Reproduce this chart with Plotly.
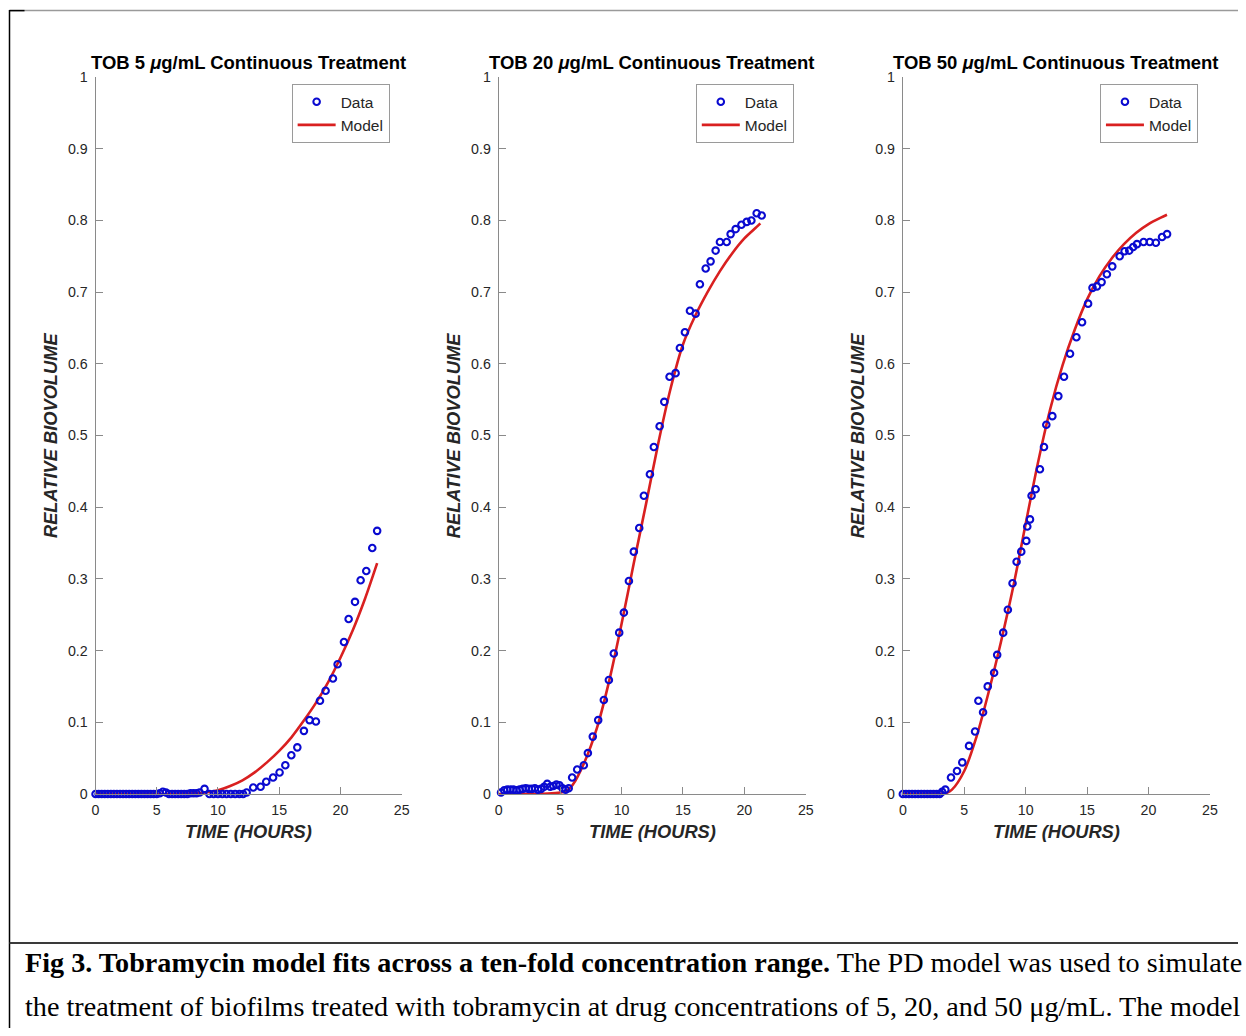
import plotly.graph_objects as go

# ---------------- data ----------------
# Panel 1: TOB 5 ug/mL
t5_data = [0.00, 0.25, 0.50, 0.75, 1.00, 1.25, 1.50, 1.75, 2.00, 2.25, 2.50, 2.75, 3.00,
           3.25, 3.50, 3.75, 4.00, 4.25, 4.50, 4.75, 5.00, 5.25, 5.50, 5.75, 6.00, 6.25,
           6.50, 6.75, 7.00, 7.25, 7.50, 7.75, 8.00, 8.25, 8.50, 8.90, 9.30, 9.65, 10.00,
           10.35, 10.70, 11.05, 11.40, 11.75, 12.05, 12.34, 12.88, 13.48, 13.94, 14.50,
           15.03, 15.50, 15.99, 16.48, 17.02, 17.48, 18.00, 18.33, 18.79, 19.39, 19.77,
           20.29, 20.67, 21.19, 21.65, 22.11, 22.60, 23.00]
y5_data = [0.000, 0.000, 0.000, 0.000, 0.000, 0.000, 0.000, 0.000, 0.000, 0.000, 0.000, 0.000, 0.000,
           0.000, 0.000, 0.000, 0.000, 0.000, 0.000, 0.000, 0.000, 0.001, 0.003, 0.002, 0.000, 0.000,
           0.000, 0.000, 0.000, 0.000, 0.000, 0.001, 0.001, 0.001, 0.002, 0.007, 0.000, 0.000, 0.000,
           0.000, 0.000, 0.000, 0.000, 0.000, 0.000, 0.002, 0.009, 0.010, 0.017, 0.023,
           0.030, 0.040, 0.054, 0.065, 0.088, 0.103, 0.101, 0.130, 0.144, 0.161, 0.181,
           0.212, 0.244, 0.268, 0.298, 0.311, 0.343, 0.367]
t5_model = [0, 1, 2, 3, 4, 5, 6, 7, 8, 9, 10, 11, 12, 13, 14, 15, 16, 17, 18, 19, 20, 21, 22, 23]
y5_model = [0.000, 0.000, 0.000, 0.000, 0.000, 0.000, 0.000, 0.0003, 0.001, 0.002, 0.005, 0.011,
            0.019, 0.030, 0.044, 0.060, 0.079, 0.102, 0.127, 0.156, 0.190, 0.228, 0.272, 0.322]

# Panel 2: TOB 20 ug/mL
t20_data = [0.19, 0.45, 0.70, 0.95, 1.20, 1.45, 1.70, 1.95, 2.20, 2.45, 2.70, 2.95, 3.20, 3.45,
            3.70, 3.95, 4.20, 4.45, 4.70, 4.95, 5.20, 5.45, 5.70, 5.98, 6.39, 6.93, 7.26, 7.66,
            8.10, 8.56, 8.97, 9.37, 9.81, 10.19, 10.60, 11.00, 11.44, 11.82, 12.31, 12.63,
            13.10, 13.48, 13.91, 14.40, 14.75, 15.16, 15.57, 16.03, 16.38, 16.85, 17.25,
            17.66, 18.01, 18.56, 18.88, 19.29, 19.76, 20.19, 20.57, 21.00, 21.41]
y20_data = [0.002, 0.005, 0.006, 0.006, 0.006, 0.005, 0.006, 0.007, 0.008, 0.007, 0.007, 0.008,
            0.006, 0.007, 0.010, 0.014, 0.010, 0.011, 0.013, 0.012, 0.008, 0.006, 0.008, 0.023,
            0.034, 0.040, 0.057, 0.080, 0.103, 0.131, 0.159, 0.196, 0.225, 0.253, 0.297, 0.338,
            0.371, 0.416, 0.446, 0.484, 0.513, 0.547, 0.582, 0.587, 0.622, 0.644, 0.674, 0.670,
            0.711, 0.733, 0.743, 0.758, 0.770, 0.770, 0.781, 0.788, 0.794, 0.798, 0.800, 0.810,
            0.807]
t20_model = [0, 1, 2, 3, 4, 5, 5.5, 6, 7, 8, 9, 10, 11, 12, 13, 14, 15, 16, 17, 18, 19, 20, 21, 21.3]
y20_model = [0.000, 0.000, 0.000, 0.000, 0.0005, 0.002, 0.004, 0.012, 0.045, 0.092, 0.158, 0.237,
             0.322, 0.405, 0.490, 0.566, 0.627, 0.667, 0.700, 0.729, 0.754, 0.775, 0.791, 0.796]

# Panel 3: TOB 50 ug/mL
t50_data = [0.00, 0.25, 0.50, 0.75, 1.00, 1.25, 1.50, 1.75, 2.00, 2.25, 2.50, 2.75, 3.00, 3.20,
            3.46, 3.92, 4.41, 4.84, 5.39, 5.88, 6.15, 6.53, 6.91, 7.43, 7.68, 8.17, 8.55, 8.93,
            9.26, 9.64, 10.05, 10.13, 10.35, 10.48, 10.81, 11.16, 11.49, 11.68, 12.17, 12.66,
            13.12, 13.61, 14.13, 14.59, 15.08, 15.44, 15.80, 16.18, 16.61, 17.05, 17.65, 18.05,
            18.43, 18.75, 19.06, 19.60, 20.10, 20.60, 21.10, 21.51]
y50_data = [0.000, 0.000, 0.000, 0.000, 0.000, 0.000, 0.000, 0.000, 0.000, 0.000, 0.000, 0.000,
            0.000, 0.003, 0.006, 0.023, 0.032, 0.044, 0.067, 0.087, 0.130, 0.114, 0.150, 0.169,
            0.194, 0.225, 0.257, 0.294, 0.324, 0.338, 0.353, 0.373, 0.383, 0.416, 0.425, 0.453,
            0.484, 0.515, 0.527, 0.555, 0.582, 0.614, 0.637, 0.658, 0.684, 0.706, 0.708, 0.714,
            0.725, 0.736, 0.750, 0.757, 0.758, 0.763, 0.767, 0.770, 0.770, 0.769, 0.777, 0.781]
t50_model = [0, 1, 2, 3, 3.5, 4, 5, 6, 7, 8, 9, 10, 11, 12, 13, 14, 15, 16, 17, 18, 19, 20, 21, 21.5]
y50_model = [0.000, 0.000, 0.000, 0.000, 0.001, 0.006, 0.032, 0.080, 0.143, 0.213, 0.290, 0.377,
             0.462, 0.537, 0.598, 0.648, 0.690, 0.722, 0.747, 0.767, 0.783, 0.795, 0.804, 0.808]

titles = ["TOB 5 <i>μ</i>g/mL Continuous Treatment",
          "TOB 20 <i>μ</i>g/mL Continuous Treatment",
          "TOB 50 <i>μ</i>g/mL Continuous Treatment"]
x_ticks = [0, 5, 10, 15, 20, 25]
y_ticks = [0, 0.1, 0.2, 0.3, 0.4, 0.5, 0.6, 0.7, 0.8, 0.9, 1]
y_ticktext = ["0", "0.1", "0.2", "0.3", "0.4", "0.5", "0.6", "0.7", "0.8", "0.9", "1"]
x_label = "TIME (HOURS)"
y_label = "RELATIVE BIOVOLUME"
caption1 = ("<b>Fig 3. Tobramycin model fits across a ten-fold concentration range.</b> "
            "The PD model was used to simulate")
caption2 = ("the treatment of biofilms treated with tobramycin at drug concentrations "
            "of 5, 20, and 50 μg/mL. The model")

panels = [(t5_data, y5_data, t5_model, y5_model),
          (t20_data, y20_data, t20_model, y20_model),
          (t50_data, y50_data, t50_model, y50_model)]

# ---------------- layout geometry ----------------
# Target positions are in final-picture pixels; convert to figure pixels to
# compensate for the page margin and the snapshot fitting.
W, H = 1246, 1036
SX, OX = 0.99, 3.5
SY, OY = 1036 / 1052, 8 * 1036 / 1052
FS = 1 / SY          # font compensation
x_left = [95, 498, 902]
x_right = [401, 805, 1209]
y_top, y_bot = 77, 794

def px(x):
    return ((x - OX) / SX) / W

def py(y):
    return 1 - ((y - OY) / SY) / H

BLUE = "#0a0ad0"
RED = "#d92020"
AX = "#8a8a8a"
TXT = "#262626"
SANS = "Liberation Sans, Arial, Helvetica, sans-serif"
SERIF = "Liberation Serif, Times New Roman, serif"

fig = go.Figure()
annotations = []
layout = {}
for i, (td, yd, tm, ym) in enumerate(panels):
    n = "" if i == 0 else str(i + 1)
    leg = "legend" + n
    fig.add_trace(go.Scatter(x=tm, y=ym, mode="lines", name="Model",
                             line=dict(color=RED, width=2.6, shape="spline", smoothing=0.8),
                             xaxis="x" + n, yaxis="y" + n, legend=leg, legendrank=2,
                             cliponaxis=False))
    fig.add_trace(go.Scatter(x=td, y=yd, mode="markers", name="Data",
                             marker=dict(symbol="circle-open", size=6.5, color=BLUE,
                                         line=dict(width=2.1, color=BLUE)),
                             xaxis="x" + n, yaxis="y" + n, legend=leg, legendrank=1,
                             cliponaxis=False))
    layout["xaxis" + n] = dict(domain=[px(x_left[i]), px(x_right[i])], range=[0, 25],
                               anchor="y" + n, tickvals=x_ticks, ticks="inside", ticklen=7,
                               tickcolor=AX, showline=True, linecolor=AX, linewidth=1,
                               showgrid=False, zeroline=False, mirror=False,
                               tickfont=dict(family=SANS, size=14 * FS, color=TXT),
                               ticklabelstandoff=3)
    layout["yaxis" + n] = dict(domain=[py(y_bot), py(y_top)], range=[0, 1],
                               anchor="x" + n, tickvals=y_ticks, ticktext=y_ticktext,
                               ticks="inside", ticklen=7, tickcolor=AX, showline=True,
                               linecolor=AX, linewidth=1, showgrid=False, zeroline=False,
                               mirror=False, tickfont=dict(family=SANS, size=14 * FS, color=TXT),
                               ticklabelstandoff=4)
    layout[leg] = dict(x=px(x_right[i] - 12), xanchor="right", y=py(84), yanchor="top",
                       bgcolor="white", bordercolor="#9a9a9a", borderwidth=1,
                       font=dict(family=SANS, size=15.5, color=TXT), tracegroupgap=0,
                       itemwidth=38, traceorder="normal")
    cx = (x_left[i] + x_right[i]) / 2
    annotations.append(dict(text="<b>" + titles[i] + "</b>", x=px(cx), y=py(62.5),
                            xref="paper", yref="paper", xanchor="center", yanchor="middle",
                            showarrow=False, font=dict(family=SANS, size=18.2 * FS, color="black")))
    annotations.append(dict(text="<b><i>" + x_label + "</i></b>", x=px(cx), y=py(832),
                            xref="paper", yref="paper", xanchor="center", yanchor="middle",
                            showarrow=False, font=dict(family=SANS, size=18 * FS, color=TXT)))
    annotations.append(dict(text="<b><i>" + y_label + "</i></b>", x=px(x_left[i] - 45),
                            y=py((y_top + y_bot) / 2), xref="paper", yref="paper",
                            xanchor="center", yanchor="middle", textangle=-90,
                            showarrow=False, font=dict(family=SANS, size=18 * FS, color=TXT)))

annotations.append(dict(text=caption1, x=px(22), y=py(963), xref="paper", yref="paper",
                        xanchor="left", yanchor="middle", showarrow=False,
                        font=dict(family=SERIF, size=28.2, color="black")))
annotations.append(dict(text=caption2, x=px(22), y=py(1007), xref="paper", yref="paper",
                        xanchor="left", yanchor="middle", showarrow=False,
                        font=dict(family=SERIF, size=28.2, color="black")))

shapes = [
    dict(type="line", xref="paper", yref="paper", x0=px(9), x1=1, y0=py(10.5), y1=py(10.5),
         line=dict(color="#9a9a9a", width=1.5)),
    dict(type="line", xref="paper", yref="paper", x0=px(9), x1=px(24), y0=py(10.5), y1=py(10.5),
         line=dict(color="black", width=1.5)),
    dict(type="line", xref="paper", yref="paper", x0=px(9), x1=px(9), y0=py(10), y1=0,
         line=dict(color="black", width=1.5)),
    dict(type="line", xref="paper", yref="paper", x0=px(9), x1=1, y0=py(943), y1=py(943),
         line=dict(color="#3a3a3a", width=2)),
]

fig.update_layout(width=W, height=H, margin=dict(l=0, r=0, t=0, b=0),
                  paper_bgcolor="white", plot_bgcolor="white", showlegend=True,
                  annotations=annotations, shapes=shapes, **layout)
fig.write_html("out.html")
